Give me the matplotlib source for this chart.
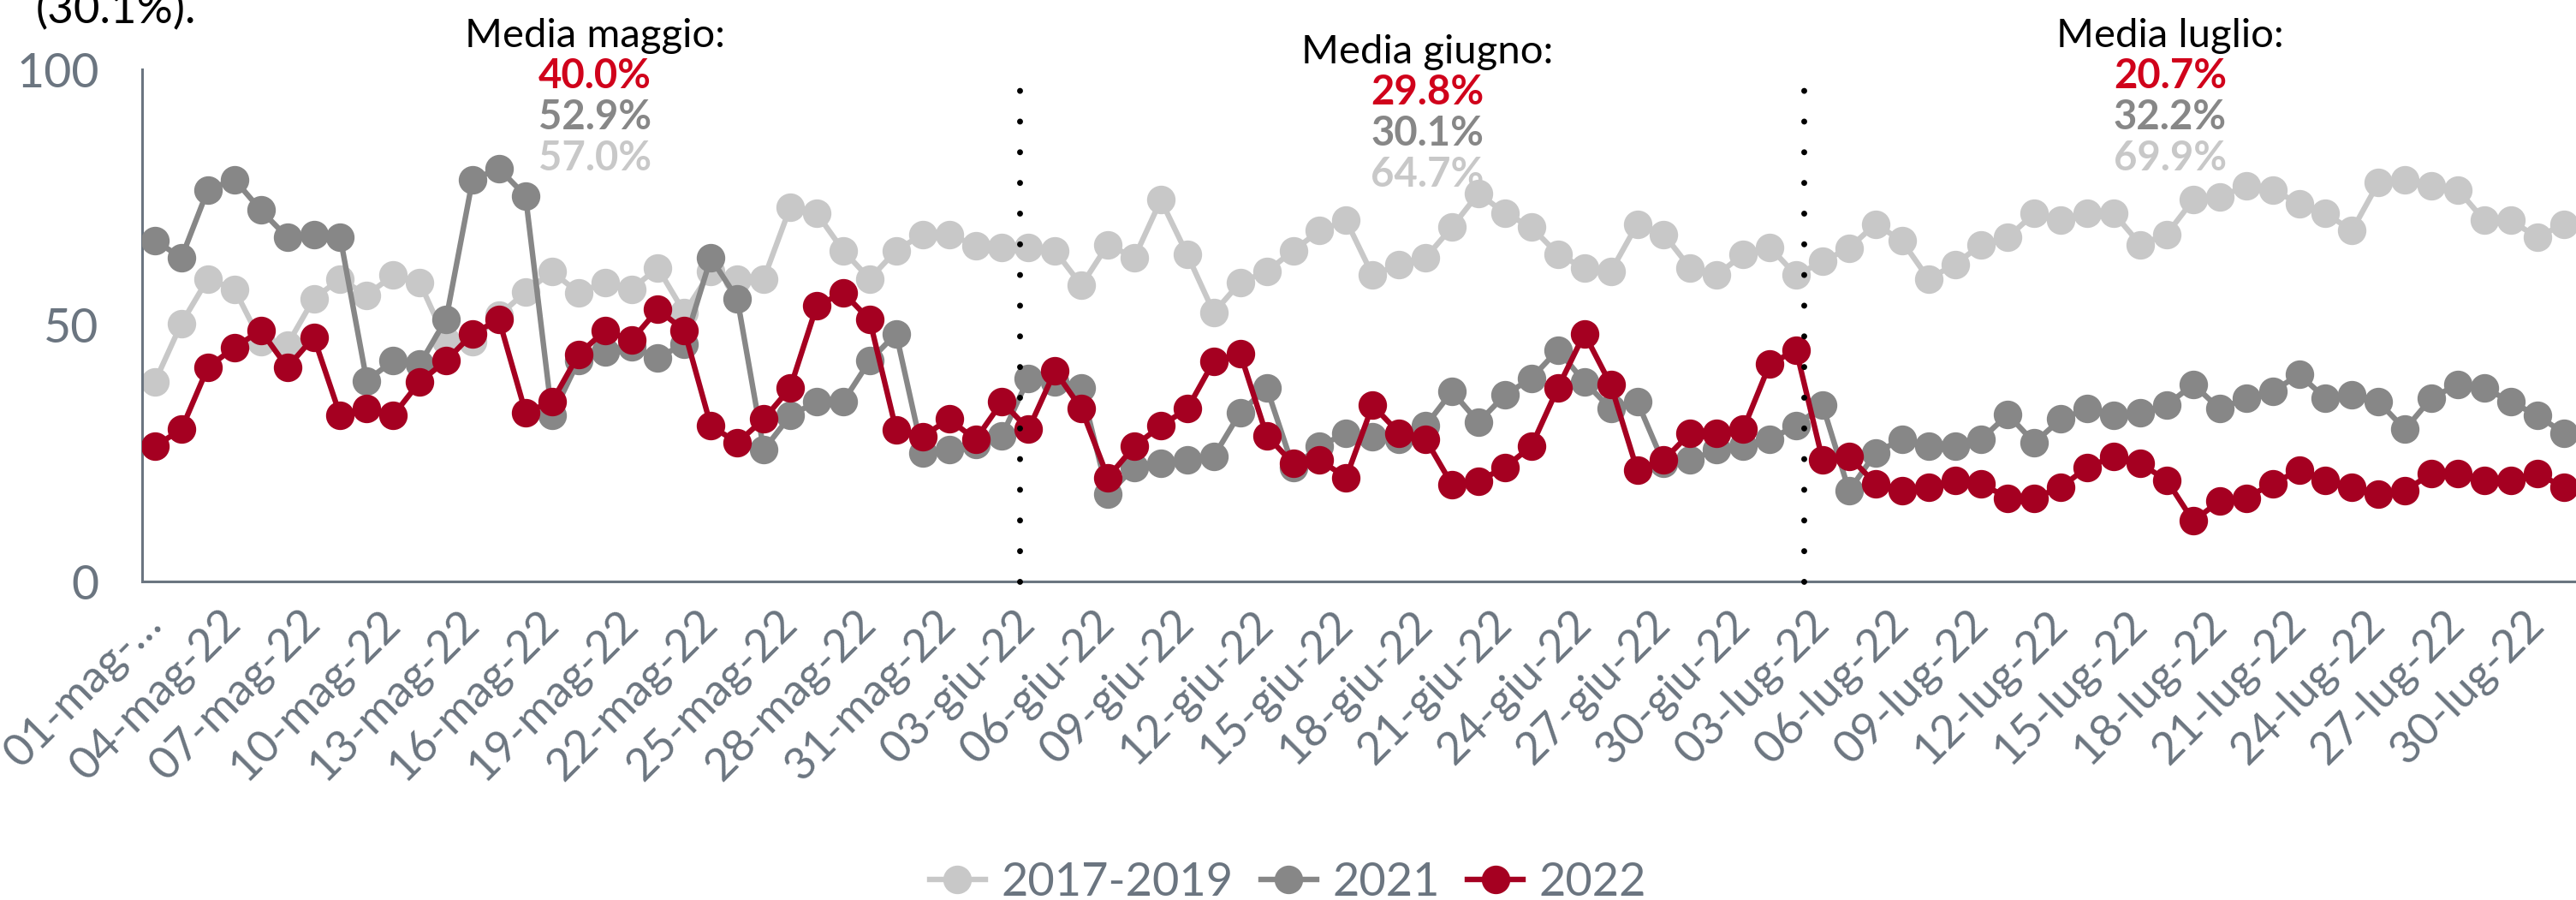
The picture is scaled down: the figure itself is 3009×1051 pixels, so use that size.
import matplotlib
matplotlib.use('Agg')
import matplotlib.pyplot as plt
import numpy as np

plt.rcParams['font.family'] = ['Lato', 'DejaVu Sans']

# etichette asse x (una ogni 3 giorni, 01-mag ... 30-lug)
tick_labels = ['01-mag-…', '04-mag-22', '07-mag-22', '10-mag-22', '13-mag-22',
               '16-mag-22', '19-mag-22', '22-mag-22', '25-mag-22', '28-mag-22',
               '31-mag-22', '03-giu-22', '06-giu-22', '09-giu-22', '12-giu-22',
               '15-giu-22', '18-giu-22', '21-giu-22', '24-giu-22', '27-giu-22',
               '30-giu-22', '03-lug-22', '06-lug-22', '09-lug-22', '12-lug-22',
               '15-lug-22', '18-lug-22', '21-lug-22', '24-lug-22', '27-lug-22',
               '30-lug-22']

# valori giornalieri 01-mag .. 31-lug (92 giorni)
v1719 = [39.0, 50.4, 59.1, 57.1, 46.9, 46.2, 55.2, 59.1, 55.9, 59.8,
         58.4, 47.0, 46.9, 52.0, 56.5, 60.5, 56.4, 58.4, 57.1, 61.2,
         52.5, 60.5, 59.1, 59.1, 73.1, 71.9, 64.6, 59.1, 64.6, 67.8,
         67.8, 65.6, 65.3, 65.3, 64.6, 57.8, 65.8, 63.2, 74.5, 63.8,
         52.5, 58.4, 60.5, 64.6, 68.5, 70.5, 59.8, 61.9, 63.2, 69.2,
         75.8, 71.9, 69.2, 63.9, 61.2, 60.5, 69.8, 67.8, 61.2, 59.8,
         63.9, 65.3, 59.8, 62.5, 65.1, 69.8, 66.5, 59.1, 61.9, 65.8,
         67.2, 71.9, 70.5, 71.9, 71.9, 65.8, 67.8, 74.5, 75.1, 77.2,
         76.5, 73.8, 71.9, 68.5, 77.9, 78.5, 77.2, 76.5, 70.5, 70.5,
         67.2, 69.8]
v2021 = [66.6, 63.2, 76.5, 78.5, 72.5, 67.2, 67.8, 67.2, 39.2, 43.1,
         42.4, 51.2, 78.5, 80.6, 75.3, 32.4, 43.1, 44.8, 45.8, 43.7,
         46.4, 63.2, 55.2, 25.7, 32.4, 35.1, 35.1, 43.1, 48.4, 25.1,
         25.7, 26.8, 28.5, 39.7, 39.0, 37.8, 17.0, 22.3, 23.0, 23.7,
         24.4, 33.0, 37.8, 22.3, 26.4, 29.0, 28.3, 27.7, 30.4, 37.1,
         31.1, 36.4, 39.7, 45.2, 39.0, 33.7, 35.1, 23.0, 23.7, 25.7,
         26.4, 27.8, 30.4, 34.4, 17.7, 25.1, 27.8, 26.4, 26.4, 27.8,
         32.6, 27.1, 31.7, 33.7, 32.4, 33.0, 34.4, 38.5, 33.7, 35.8,
         37.1, 40.4, 35.8, 36.4, 35.1, 29.7, 35.8, 38.5, 37.8, 35.1,
         32.4, 29.0]
v2022 = [26.4, 29.7, 41.8, 45.7, 49.0, 41.8, 47.7, 32.4, 33.7, 32.4,
         39.0, 43.1, 48.4, 51.1, 33.0, 35.1, 44.3, 49.0, 47.1, 53.1,
         49.0, 30.4, 27.1, 31.7, 37.8, 53.8, 56.4, 51.1, 29.6, 28.3,
         31.7, 27.7, 35.1, 29.7, 41.1, 33.7, 20.3, 26.4, 30.4, 33.7,
         43.0, 44.5, 28.5, 23.0, 23.7, 20.3, 34.4, 29.0, 27.8, 18.9,
         19.6, 22.3, 26.4, 37.8, 48.4, 38.4, 21.7, 23.7, 29.0, 29.0,
         29.7, 42.4, 45.2, 23.7, 24.4, 19.1, 17.7, 18.4, 19.8, 19.1,
         16.3, 16.3, 18.4, 22.3, 24.4, 23.0, 19.8, 11.8, 15.7, 16.3,
         19.1, 21.7, 19.8, 18.4, 17.0, 17.7, 21.1, 21.1, 19.8, 19.8,
         21.1, 18.4]

mesi = ['Media maggio:', 'Media giugno:', 'Media luglio:']
medie_2022 = ['40.0%', '29.8%', '20.7%']
medie_2021 = ['52.9%', '30.1%', '32.2%']
medie_1719 = ['57.0%', '64.7%', '69.9%']
separatori = [32.65, 62.28]

c1719 = '#c8c8c8'
c2021 = '#878787'
c2022 = '#a50021'
c2022_txt = '#d0021b'
slate = '#6b7580'

W, H = 3009, 1051
fig = plt.figure(figsize=(W / 100, H / 100), dpi=100)
x0, dx = 181, 30.92
y100, y0 = 81, 679
ax = fig.add_axes([(x0 - dx / 2) / W, 1 - y0 / H, 92 * dx / W, (y0 - y100) / H])

x = np.arange(len(v2022))
ax.plot(x, v1719, color=c1719, lw=4.6, marker='o', ms=23, label='2017-2019', zorder=2)
ax.plot(x, v2021, color=c2021, lw=4.6, marker='o', ms=23, label='2021', zorder=3)
ax.plot(x, v2022, color=c2022, lw=4.6, marker='o', ms=23, label='2022', zorder=4)

for xs in separatori:
    ax.plot([xs, xs], [0, 100], color='black', lw=5, linestyle=(0, (0.01, 5.15)),
            dash_capstyle='round', zorder=5, clip_on=False)

ax.set_xlim(-0.5, 91.5)
ax.set_ylim(0, 100)
for s in ['top', 'right']:
    ax.spines[s].set_visible(False)
for s in ['left', 'bottom']:
    ax.spines[s].set_color(slate)
    ax.spines[s].set_linewidth(2.2)

ax.set_yticks([0, 50, 100])
ax.tick_params(axis='y', length=0, pad=36, labelsize=40, labelcolor=slate)
ax.set_xticks(x[::3])
ax.set_xticklabels(tick_labels)
ax.tick_params(axis='x', length=0, pad=30, labelsize=38, labelcolor=slate)
for lab in ax.get_xticklabels():
    lab.set_rotation(45)
    lab.set_ha('right')
    lab.set_va('center')
    lab.set_rotation_mode('anchor')

# medie mensili
centri = [695, 1667, 2535]
base_titolo = [55, 74, 55]
for i in range(3):
    cx = centri[i] / W
    b = base_titolo[i]
    fig.text(cx, 1 - b / H, mesi[i], ha='center', va='baseline', fontsize=34, color='black')
    fig.text(cx, 1 - (b + 48) / H, medie_2022[i], ha='center', va='baseline', fontsize=34,
             fontweight='bold', color=c2022_txt)
    fig.text(cx, 1 - (b + 96) / H, medie_2021[i], ha='center', va='baseline', fontsize=34,
             fontweight='bold', color=c2021)
    fig.text(cx, 1 - (b + 144) / H, medie_1719[i], ha='center', va='baseline', fontsize=34,
             fontweight='bold', color=c1719)

fig.text(42 / W, 1 - 27 / H, '(30.1%).', ha='left', va='baseline', fontsize=38, color='black')

fig.legend(loc='center', bbox_to_anchor=(0.5, 1 - 1030 / H), ncol=3, frameon=False,
           fontsize=39, handlelength=1.2, handletextpad=0.34, columnspacing=0.6,
           labelcolor=slate)

fig.savefig('out.png', dpi=100)
